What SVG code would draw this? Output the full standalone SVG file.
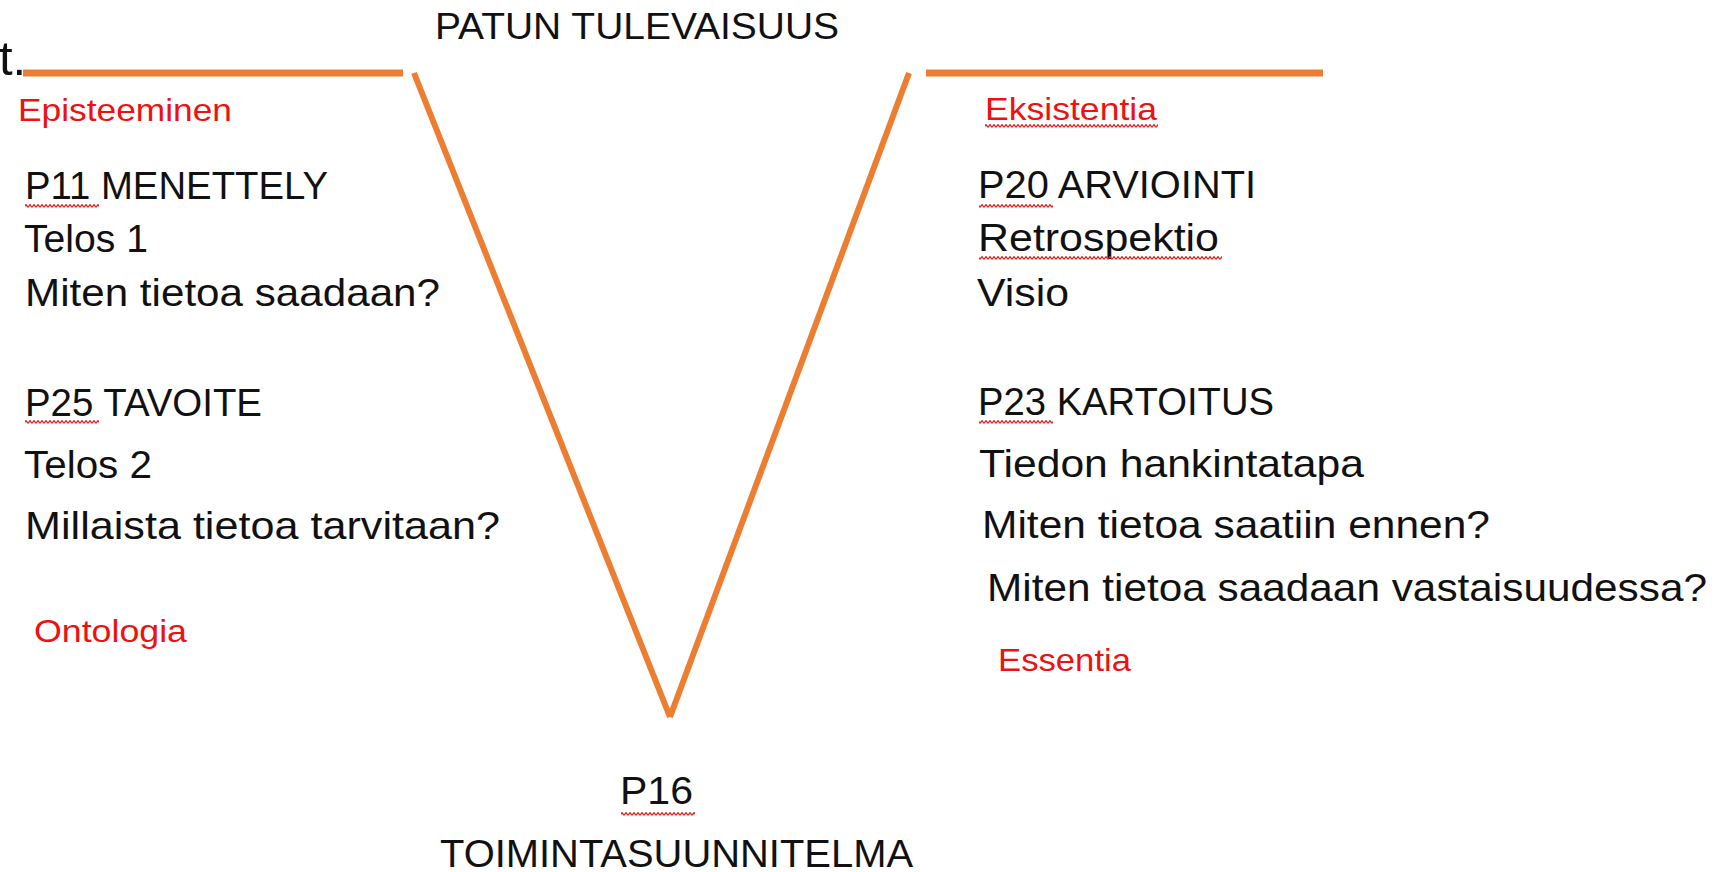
<svg xmlns="http://www.w3.org/2000/svg" width="1718" height="872" viewBox="0 0 1718 872">
<style>
  text { font-family: "Liberation Sans", Arial, sans-serif; }
  .t { font-size: 39px; fill: #111111; }
  .h { font-size: 37px; fill: #111111; }
  .r { font-size: 32px; fill: #EE1111; }
  .big { font-size: 49px; fill: #111111; }
  .ln { stroke: #ED7D31; fill: none; stroke-linecap: butt; }
  .hz { stroke-width: 7; }
  .dg { stroke-width: 6; }
  .wv { fill: url(#wavy); }
</style>
<defs>
  <pattern id="wavy" x="0" y="0" width="4" height="4" patternUnits="userSpaceOnUse">
    <path d="M0,3.3 L2,0.7 L4,3.3" fill="none" stroke="#E0201C" stroke-width="1.3"/>
  </pattern>
</defs>
<rect width="1718" height="872" fill="#ffffff"/>

<g id="connectors">
  <line class="ln hz" x1="23" y1="73" x2="403" y2="73"/>
  <line class="ln dg" x1="414" y1="73" x2="670" y2="717"/>
  <line class="ln dg" x1="670" y1="717" x2="909" y2="73"/>
  <line class="ln hz" x1="926" y1="73" x2="1323" y2="73"/>
</g>

<g id="fragment">
  <text class="big" x="-1" y="75">t.</text>
</g>

<g id="title">
  <text class="h" x="435" y="39" textLength="404" lengthAdjust="spacingAndGlyphs">PATUN TULEVAISUUS</text>
</g>

<g id="episteeminen">
  <text class="r" x="18" y="121" textLength="214" lengthAdjust="spacingAndGlyphs">Episteeminen</text>
</g>

<g id="p11">
  <text class="t" x="25" y="199" textLength="303" lengthAdjust="spacingAndGlyphs">P11 MENETTELY</text>
  <rect class="wv" x="25" y="204" width="74" height="4"/>
  <text class="t" x="24" y="252" textLength="124" lengthAdjust="spacingAndGlyphs">Telos 1</text>
  <text class="t" x="25" y="306" textLength="415" lengthAdjust="spacingAndGlyphs">Miten tietoa saadaan?</text>
</g>

<g id="p25">
  <text class="t" x="25" y="416" textLength="237" lengthAdjust="spacingAndGlyphs">P25 TAVOITE</text>
  <rect class="wv" x="25" y="420" width="74" height="4"/>
  <text class="t" x="24" y="478" textLength="128" lengthAdjust="spacingAndGlyphs">Telos 2</text>
  <text class="t" x="25" y="539" textLength="475" lengthAdjust="spacingAndGlyphs">Millaista tietoa tarvitaan?</text>
</g>

<g id="ontologia">
  <text class="r" x="34" y="642" textLength="153" lengthAdjust="spacingAndGlyphs">Ontologia</text>
</g>

<g id="eksistentia">
  <text class="r" x="985" y="120" textLength="172" lengthAdjust="spacingAndGlyphs">Eksistentia</text>
  <rect class="wv" x="985" y="124" width="173" height="4"/>
</g>

<g id="p20">
  <text class="t" x="978" y="198" textLength="278" lengthAdjust="spacingAndGlyphs">P20 ARVIOINTI</text>
  <rect class="wv" x="979" y="204" width="74" height="4"/>
  <text class="t" x="978" y="251" textLength="241" lengthAdjust="spacingAndGlyphs">Retrospektio</text>
  <rect class="wv" x="979" y="256" width="243" height="4"/>
  <text class="t" x="977" y="306" textLength="92" lengthAdjust="spacingAndGlyphs">Visio</text>
</g>

<g id="p23">
  <text class="t" x="978" y="415" textLength="296" lengthAdjust="spacingAndGlyphs">P23 KARTOITUS</text>
  <rect class="wv" x="979" y="420" width="74" height="4"/>
  <text class="t" x="979" y="477" textLength="385" lengthAdjust="spacingAndGlyphs">Tiedon hankintatapa</text>
  <text class="t" x="982" y="538" textLength="508" lengthAdjust="spacingAndGlyphs">Miten tietoa saatiin ennen?</text>
  <text class="t" x="987" y="601" textLength="720" lengthAdjust="spacingAndGlyphs">Miten tietoa saadaan vastaisuudessa?</text>
</g>

<g id="essentia">
  <text class="r" x="998" y="671" textLength="133" lengthAdjust="spacingAndGlyphs">Essentia</text>
</g>

<g id="p16">
  <text class="t" x="620" y="804" textLength="73" lengthAdjust="spacingAndGlyphs">P16</text>
  <rect class="wv" x="621" y="812" width="74" height="4"/>
  <text class="t" x="440" y="867" textLength="473" lengthAdjust="spacingAndGlyphs">TOIMINTASUUNNITELMA</text>
</g>
</svg>
